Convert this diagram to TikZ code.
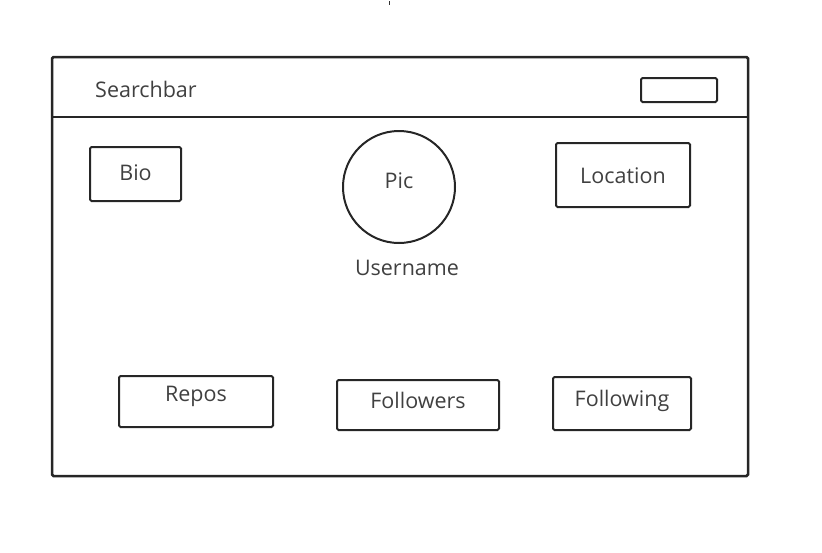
\documentclass[tikz,border=0pt]{standalone}
\usepackage{fontspec}
\setmainfont{Open Sans}
\usepackage{tikz}
\usetikzlibrary{positioning}

% lift a label without changing the node size
\newcommand\liftby[2]{\raisebox{#1}[\height][\depth]{#2}}

\begin{document}
\begin{tikzpicture}[x=1pt,y=-1pt,
    sketch/.style={draw=black!85,line width=2pt,rounded corners=1.5pt},
    box/.style={sketch,rectangle,inner sep=0pt,font=\fontsize{21.5}{24}\selectfont\color{black!75}},
    lbl/.style={inner sep=0pt,font=\fontsize{21.5}{24}\selectfont\color{black!75}}]

  \useasboundingbox (0,0) rectangle (822,552);

  % page frame and header
  \draw [sketch,line width=2.5pt] (52,57) rectangle (748,476);
  \draw [sketch,line width=2.5pt] (52,117) -- (748,117);
  \draw [line width=1pt,black!80] (389,1) -- (389,5);

  \node [lbl,anchor=west] (searchbar) at (95,89) {Searchbar};
  \node [box,minimum width=76pt,minimum height=24pt] (button) at (679,90) {};

  % profile
  \node [box,minimum width=91pt,minimum height=54pt] (bio) at (135.5,174) {\liftby{1pt}{Bio}};
  \node [box,circle,minimum size=112pt] (pic) at (399,187) {\liftby{6.5pt}{Pic}};
  \node [lbl] (username) at (407,268) {Username};
  \node [box,minimum width=134pt,minimum height=64pt] (location) at (623,175) {\liftby{-1pt}{Location}};

  % counters
  \node [box,minimum width=154pt,minimum height=51pt] (repos) at (196,401.5) {\liftby{5.5pt}{Repos}};
  \node [box,minimum width=162pt,minimum height=50pt] (followers) at (418,405) {\liftby{4.5pt}{Followers}};
  \node [box,minimum width=138pt,minimum height=53pt] (following) at (622,403.5) {\liftby{3pt}{Following}};

\end{tikzpicture}
\end{document}
